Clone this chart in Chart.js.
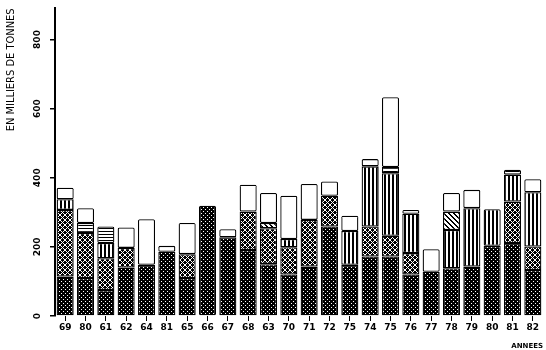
<!DOCTYPE html>
<html>
<head>
<meta charset="utf-8">
<script src="https://cdn.jsdelivr.net/npm/chart.js@4/dist/chart.umd.min.js"></script>
<style>
  html, body { margin: 0; background: #fff; }
  #wrap { width: 546px; height: 350px; }
</style>
</head>
<body>
<div id="wrap"><canvas id="chart"></canvas></div>
<script>
// year labels as printed on the scan
const years = ["69", "80", "61", "62", "64", "81", "65", "66", "67", "68", "63", "70",
               "71", "72", "75", "74", "75", "76", "77", "78", "79", "80", "81", "82"];

// thousands of tonnes, bottom to top
const darkDots  = [114, 110, 75, 140, 148, 186, 110, 319, 228, 191, 150, 120, 143, 259, 148, 172, 172, 120, 128, 138, 143, 203, 211, 133];
const crossHatch = [193, 130, 92, 57, 0, 0, 69, 0, 0, 111, 104, 79, 135, 89, 0, 87, 60, 62, 0, 0, 0, 0, 120, 68];
const vStripes  = [31, 0, 44, 0, 0, 0, 0, 0, 0, 0, 0, 24, 0, 0, 98, 174, 181, 114, 0, 111, 169, 106, 78, 157];
const diagonal  = [0, 0, 0, 0, 0, 0, 0, 0, 0, 0, 15, 0, 0, 0, 0, 0, 0, 0, 0, 53, 0, 0, 0, 0];
const hLines    = [0, 29, 48, 0, 0, 0, 0, 0, 0, 0, 0, 0, 0, 0, 0, 0, 18, 0, 0, 0, 0, 0, 14, 0];
const blank     = [33, 43, 0, 59, 132, 17, 90, 0, 23, 78, 87, 125, 104, 41, 44, 21, 202, 11, 65, 54, 53, 0, 0, 38];

const yTicks = [0, 200, 400, 600, 800];

// small tiles, "#" black and "." white
function tile(rows) {
  const c = document.createElement("canvas");
  c.width = rows[0].length;
  c.height = rows.length;
  const g = c.getContext("2d");
  g.fillStyle = "#fff";
  g.fillRect(0, 0, c.width, c.height);
  g.fillStyle = "#000";
  rows.forEach((r, y) => {
    for (let x = 0; x < r.length; x++) if (r[x] === "#") g.fillRect(x, y, 1, 1);
  });
  return g.createPattern(c, "repeat");
}

const pDark = tile(["####", "#.##", "####", "###."]);
const pCross = tile([".###.", "#.#.#", "##.##", "#.#.#", ".###."]);
const pV = tile(["##.."]);
const pDiag = tile(["##...", ".##..", "..##.", "...##", "#...#"]);
const pH = tile(["#", ".", "."]);

const font = { family: "DejaVu Sans", size: 9, weight: "bold" };

function series(data, fill) {
  return {
    data: data,
    backgroundColor: fill,
    borderColor: "#000",
    borderWidth: 1.3,
    borderSkipped: false,
    borderRadius: 1.5,
    barPercentage: 0.84,
    categoryPercentage: 1,
  };
}

new Chart(document.getElementById("chart"), {
  type: "bar",
  data: {
    labels: years,
    datasets: [
      series(darkDots, pDark),
      series(crossHatch, pCross),
      series(vStripes, pV),
      series(diagonal, pDiag),
      series(hLines, pH),
      series(blank, "#fff"),
    ],
  },
  options: {
    responsive: true,
    maintainAspectRatio: false,
    animation: false,
    layout: { padding: { left: 4, right: 3, top: 8, bottom: 0 } },
    plugins: { legend: { display: false }, tooltip: { enabled: false } },
    scales: {
      x: {
        stacked: true,
        afterFit: (s) => { s.height = 34; },
        border: { display: false },
        grid: { display: true, drawOnChartArea: false, offset: false, tickLength: 5, color: "#000", lineWidth: 1 },
        ticks: { color: "#000", font: font, padding: 1, maxRotation: 0, autoSkip: false },
        title: { display: true, text: "ANNEES", align: "end", color: "#000",
                 font: { family: "DejaVu Sans", size: 7, weight: "bold" }, padding: 0 },
      },
      y: {
        stacked: true,
        min: 0,
        max: 890,
        afterFit: (s) => { s.width = 51; },
        afterBuildTicks: (s) => { s.ticks = yTicks.map((v) => ({ value: v })); },
        border: { display: true, color: "#000", width: 2 },
        grid: { drawOnChartArea: false, tickLength: 5, color: "#000", lineWidth: 1.5 },
        ticks: { color: "#000", font: font, minRotation: 90, maxRotation: 90, crossAlign: "center", padding: 3 },
        title: { display: true, text: "EN MILLIERS DE TONNES", align: "end", color: "#000",
                 font: { family: "DejaVu Sans Condensed", size: 11 }, padding: { top: 1, bottom: 2 } },
      },
    },
  },
});
</script>
</body>
</html>
